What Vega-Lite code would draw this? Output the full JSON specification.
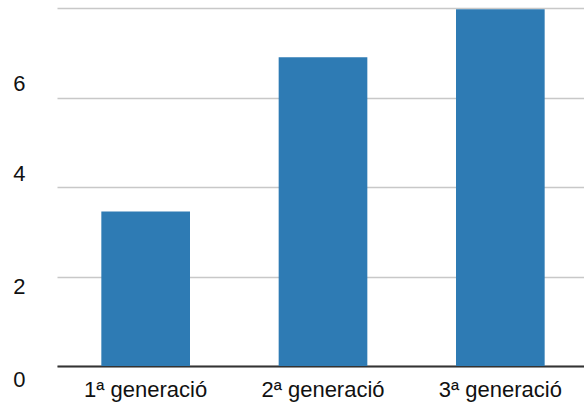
{
  "$schema": "https://vega.github.io/schema/vega-lite/v6.json",
  "width": 532,
  "height": 358,
  "autosize": {"type": "none"},
  "padding": {"left": 57, "top": 8, "right": 0, "bottom": 42},
  "background": "white",
  "data": {
    "values": [
      {"gen": "1ª generació", "value": 3.45},
      {"gen": "2ª generació", "value": 6.9},
      {"gen": "3ª generació", "value": 7.97}
    ]
  },
  "mark": {"type": "bar", "color": "#2e7bb4"},
  "encoding": {
    "x": {
      "field": "gen",
      "type": "nominal",
      "sort": null,
      "scale": {"paddingInner": 0.5, "paddingOuter": 0.25},
      "axis": {
        "title": null,
        "labelAngle": 0,
        "ticks": false,
        "domainColor": "#333333",
        "domainWidth": 2,
        "labelFont": "Liberation Sans",
        "labelFontSize": 22,
        "labelColor": "#111111",
        "labelPadding": 13
      }
    },
    "y": {
      "field": "value",
      "type": "quantitative",
      "scale": {"domain": [0, 8], "nice": false},
      "axis": {
        "title": null,
        "values": [0, 2, 4, 6, 8],
        "domain": false,
        "ticks": false,
        "gridColor": "#c8c8c8",
        "gridWidth": 1.5,
        "labelExpr": "datum.value == 8 ? '' : datum.label",
        "labelOffset": {"expr": "datum.value >= 4 ? -14 : (datum.value == 2 ? 9.5 : 13.5)"},
        "labelPadding": 32,
        "labelFont": "Liberation Sans",
        "labelFontSize": 22,
        "labelColor": "#111111",
        "labelOverlap": false
      }
    }
  },
  "config": {"view": {"stroke": null}}
}
